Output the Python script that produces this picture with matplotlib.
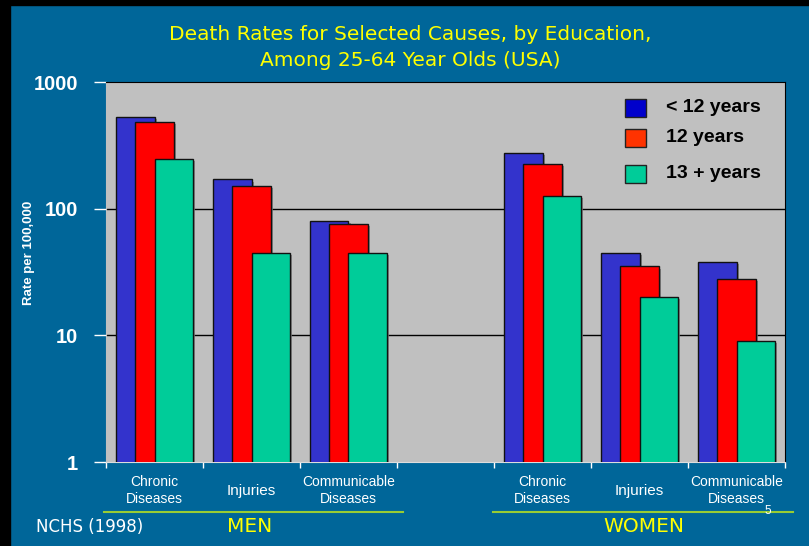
import matplotlib
matplotlib.use("Agg")
import matplotlib.pyplot as plt
import matplotlib.patheffects as pe
from matplotlib.patches import Rectangle
from matplotlib.lines import Line2D
import numpy as np

# data (rate per 100,000)
categories = ["Chronic\nDiseases", "Injuries", "Communicable\nDiseases"]
groups = ["MEN", "WOMEN"]
series_names = ["< 12 years", "12 years", "13 + years"]
men_lt12 = [530, 170, 80]
men_12 = [485, 151, 76]
men_13 = [248, 45, 45]
women_lt12 = [275, 45, 38]
women_12 = [224, 35, 28]
women_13 = [125, 20, 9]

bar_cols = ["#3333CC", "#FF0000", "#00CC99"]
legend_cols = ["#0000CC", "#FF3300", "#00CC99"]
bg = "#006699"

fig = plt.figure(figsize=(8.09, 5.46), dpi=100)
fig.patch.set_facecolor(bg)
# black frame on top/left like the original slide crop
fig.patches.append(Rectangle((0, 0), 10/809, 1, transform=fig.transFigure, color="black", zorder=0))
fig.patches.append(Rectangle((0, 1-5/546), 1, 5/546, transform=fig.transFigure, color="black", zorder=0))

ax = fig.add_axes([106/809, 1-462/546, (785-106)/809, (462-82)/546])
ax.set_facecolor("#C0C0C0")
ax.set_yscale("log")
ax.set_ylim(1, 1000)
ax.set_xlim(0, 7)

slots = [0, 1, 2, 4, 5, 6]
series = [men_lt12 + women_lt12, men_12 + women_12, men_13 + women_13]
shadow = [pe.SimplePatchShadow(offset=(1.5, -1.5), shadow_rgbFace="#777777", alpha=0.8), pe.Normal()]
for k, vals in enumerate(series):
    xs = np.array(slots) + 0.3 + 0.2 * k
    bars = ax.bar(xs, vals, width=0.4, color=bar_cols[k], edgecolor="#111111",
                  linewidth=1, zorder=3 + k)
    for b in bars:
        b.set_path_effects(shadow)

for yv in [10, 100]:
    ax.axhline(yv, color="black", linewidth=1, zorder=1)

for s in ["top", "right"]:
    ax.spines[s].set_color("black")
ax.spines["left"].set_color("#C0C0C0")
ax.spines["bottom"].set_color("#DDDDDD")

ax.set_yticks([1, 10, 100, 1000])
ax.set_yticklabels(["1", "10", "100", "1000"])
ax.yaxis.set_minor_locator(matplotlib.ticker.NullLocator())
ax.tick_params(axis="y", colors="white", length=9, width=1, pad=11)
for t in ax.get_yticklabels():
    t.set_fontsize(14.5)
    t.set_fontweight("bold")
    t.set_fontfamily("Liberation Sans")

ax.set_xticks(range(8))
ax.set_xticklabels([])
ax.tick_params(axis="x", colors="white", length=4, width=1, direction="out")

ax.set_ylabel("Rate per 100,000", color="white", fontsize=9.5, fontweight="bold",
              family="Liberation Sans")
ax.yaxis.set_label_coords((35-106)/679, (462-253)/380)

# category labels
for i, s in enumerate(slots):
    lab = categories[i % 3]
    fs = 11 if lab == "Injuries" else 10
    ax.text(s + 0.5, -0.075, lab, transform=ax.get_xaxis_transform(), ha="center", va="center",
            color="white", fontsize=fs, family="Liberation Sans", linespacing=1.2)

# group underlines and names
W, H = 809, 546
for (x0, x1, xc), name in zip([(104, 403, 250), (493, 793, 644)], groups):
    fig.add_artist(Line2D([x0/W, x1/W], [1-512/H, 1-512/H], color="#99CC33", linewidth=1.5))
    fig.text(xc/W, 1-527/H, name, color="#FFFF00", fontsize=14.5, ha="center", va="center",
             family="DejaVu Sans")
fig.text(36/W, 1-527/H, "NCHS (1998)", color="white", fontsize=12, ha="left", va="center",
         family="DejaVu Sans")
fig.text(768/W, 1-511/H, "5", color="white", fontsize=8.5, ha="center", va="center",
         family="Liberation Sans")

# title
fig.text(410/W, 1-35/H, "Death Rates for Selected Causes, by Education,", color="#FFFF00",
         fontsize=14.5, ha="center", va="center", family="DejaVu Sans")
fig.text(410/W, 1-60/H, "Among 25-64 Year Olds (USA)", color="#FFFF00",
         fontsize=14.5, ha="center", va="center", family="DejaVu Sans")

# legend (uneven spacing as in the original)
leg_y = [108, 138, 174]
for name, c, yy in zip(series_names, legend_cols, leg_y):
    fig.patches.append(Rectangle((625/W, 1-(yy+9)/H), 21/W, 18/H, transform=fig.transFigure,
                                 facecolor=c, edgecolor="#222222", linewidth=1, zorder=10))
    fig.text(666/W, 1-yy/H, name, color="black", fontsize=14, fontweight="bold",
             ha="left", va="center", family="Liberation Sans", zorder=11)

fig.savefig("out.png", dpi=100, facecolor=fig.get_facecolor())
